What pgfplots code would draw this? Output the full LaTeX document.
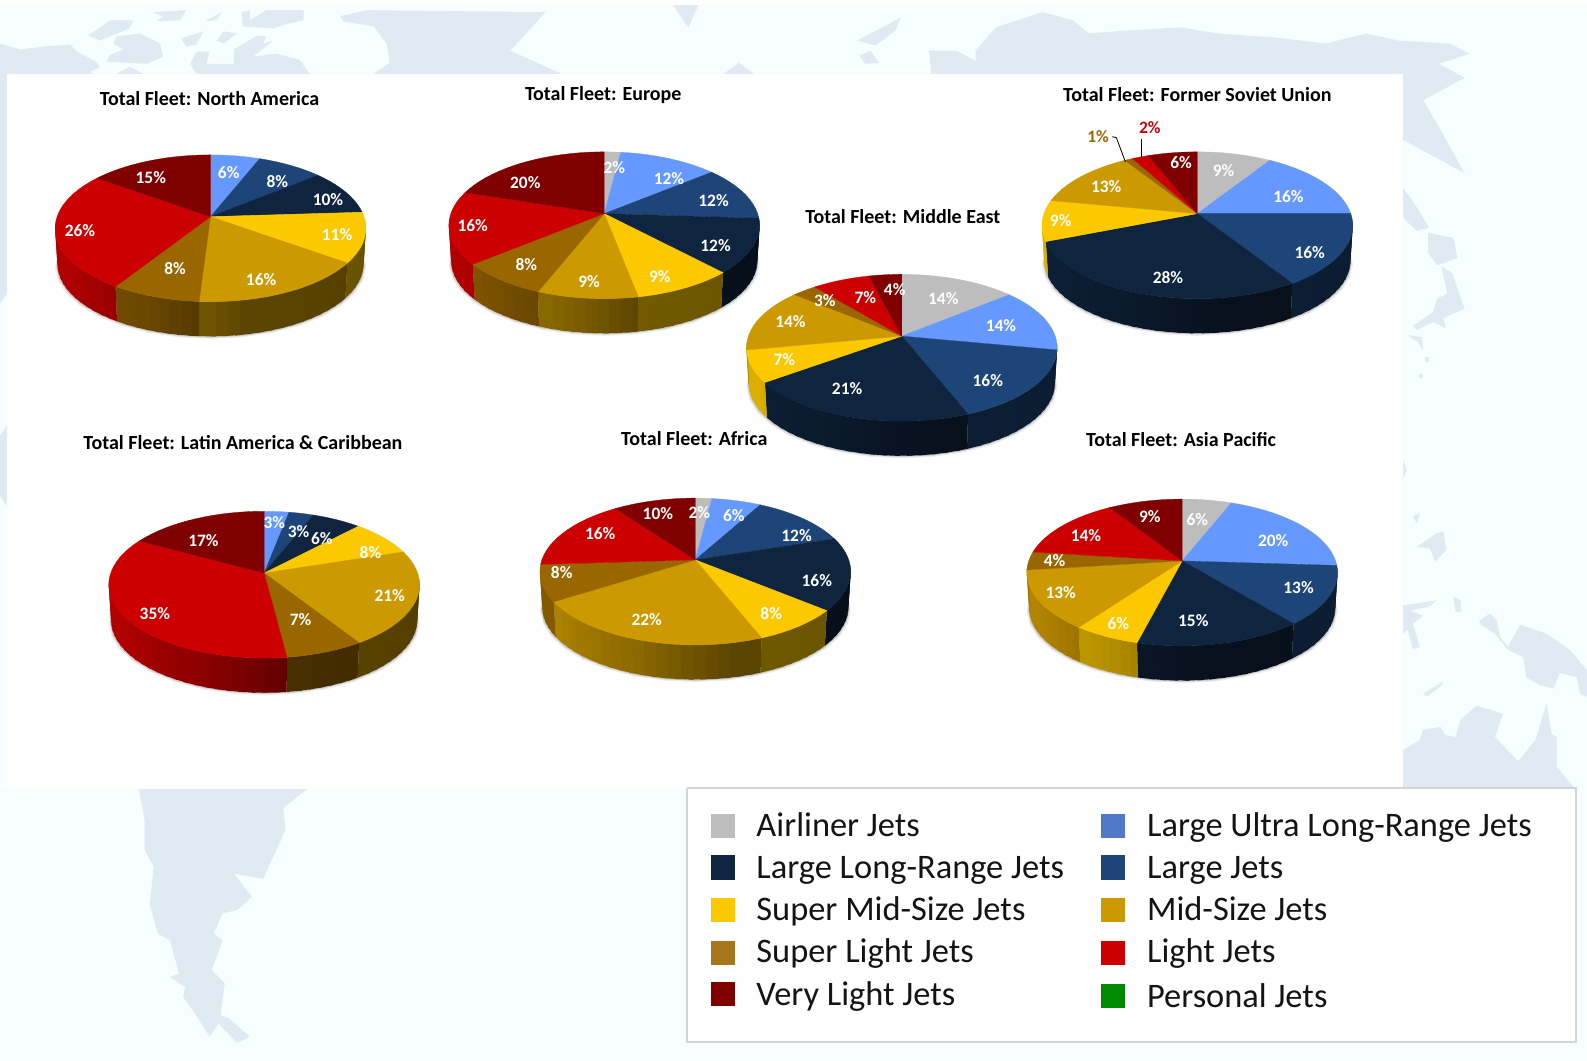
\documentclass[border=0pt]{standalone}
\usepackage{fontspec}
\setmainfont{Carlito}
\usepackage{pgfplots}
\pgfplotsset{compat=1.18}
\definecolor{cA}{HTML}{BDBDBD}
\definecolor{cB}{HTML}{6699FF}
\definecolor{cC}{HTML}{1D4577}
\definecolor{cD}{HTML}{0F243E}
\definecolor{cE}{HTML}{FCC900}
\definecolor{cF}{HTML}{CC9900}
\definecolor{cG}{HTML}{996600}
\definecolor{cH}{HTML}{CC0000}
\definecolor{cI}{HTML}{800000}
\definecolor{legB}{HTML}{5078C8}
\definecolor{legG}{HTML}{A6761D}
\definecolor{legP}{HTML}{008A00}
\definecolor{mapc}{HTML}{DFEAF3}
\definecolor{seac}{HTML}{F6FEFF}
% perspective of the pie
\def\kk{0.1586}
\def\RR{151.6}
\def\SS{70.7}
\def\DD{35.5}
\def\BS{0.985}
\def\ptcalc#1{\pgfmathsetmacro\wtmp{1+\kk*cos(#1)}\pgfmathsetmacro\PX{\RR*sin(#1)/\wtmp}\pgfmathsetmacro\PY{-\SS*cos(#1)/\wtmp}}
\def\topxy#1{\ptcalc{#1}\pgfmathsetmacro\QX{\AX+\PX}\pgfmathsetmacro\QY{\AY+\PY}}
\def\botxy#1{\ptcalc{#1}\pgfmathsetmacro\QX{\AX+\BS*\PX}\pgfmathsetmacro\QY{\AY+\BS*\PY+\DD}}
\def\brightness#1{\pgfmathsetmacro\bb{#1>=240?87:(#1>=200?68+19*(#1-200)/40:(#1>=170?45+23*(#1-170)/30:(40+5*(#1-100)/70)))}}
\newcommand\poly[2]{\addplot[forget plot,fill=#1,draw=none] coordinates {#2};}
\newcommand\lab[4][white]{\node[font=\fontsize{8.7}{8.7}\selectfont\bfseries,text=#1,inner sep=0pt] at (axis cs:#2,#3) {#4\%};}
\newcommand\ttl[3]{\node[font=\fontsize{10}{10}\selectfont\bfseries,text=black,inner sep=0pt] at (axis cs:#1,#2) {#3};}
\newcommand\swatch[3]{\addplot[forget plot,fill=#3,draw=none] coordinates {(#1,#2-12)(#1+24,#2-12)(#1+24,#2+12)(#1,#2+12)};}
\newcommand\legtxt[3]{\node[font=\fontsize{17.2}{17.2}\selectfont,anchor=base west,inner sep=0pt,text=black!92] at (axis cs:#1,#2) {#3};}
% one pie: apex x, apex y, shares in percent
\newcommand\piechart[3]{%
\def\AX{#1}\def\AY{#2}%
\foreach \grow/\op in {2.4/0.08,1.2/0.14}{%
 \gdef\cl{}%
 \foreach \t in {80,90,...,280}{\botxy{\t}\pgfmathsetmacro\QX{\AX+(\QX-\AX)*(1+\grow/150)}\pgfmathsetmacro\QY{\QY+\grow}\xdef\cl{\cl(\QX,\QY)}}%
 \edef\tmp{\noexpand\addplot[forget plot,fill=black,draw=none,fill opacity=\op] coordinates {\cl};}\tmp
}%
\gdef\cum{0}%
\foreach \v/\c in {#3}{%
 \pgfmathsetmacro\ta{\cum*3.6}\pgfmathsetmacro\tb{(\cum+\v)*3.6}%
 \pgfmathsetmacro\ca{max(\ta,95)}\pgfmathsetmacro\cb{min(\tb,265)}%
 \pgfmathparse{\cb>\ca?1:0}%
 \ifnum\pgfmathresult=1
  \pgfmathtruncatemacro\ns{ceil((\cb-\ca)/4)}%
  \foreach \i in {1,...,\ns}{%
   \pgfmathsetmacro\sa{\ca+(\cb-\ca)*(\i-1)/\ns}\pgfmathsetmacro\sb{\ca+(\cb-\ca)*\i/\ns}%
   \pgfmathsetmacro\sm{(\sa+\sb)/2}\brightness{\sm}%
   \pgfmathsetmacro\se{max(\ca,\sa-1.5)}%
   \topxy{\se}\edef\pa{(\QX,\QY)}\topxy{\sb}\edef\pb{(\QX,\QY)}\botxy{\sb}\edef\pc{(\QX,\QY)}\botxy{\se}\edef\pd{(\QX,\QY)}%
   \edef\tmp{\noexpand\addplot[forget plot,fill={\c!\bb!black},draw=none] coordinates {\pa\pb\pc\pd};}\tmp
  }%
 \fi
 \pgfmathsetmacro\newcum{\cum+\v}\xdef\cum{\newcum}%
}%
\gdef\cum{0}%
\foreach \v/\c in {#3}{%
 \pgfmathsetmacro\ta{\cum*3.6}\pgfmathsetmacro\tb{(\cum+\v)*3.6}%
 \pgfmathtruncatemacro\ns{ceil((\tb-\ta)/4)}%
 \xdef\cl{(\AX,\AY)}%
 \foreach \i in {0,...,\ns}{\pgfmathsetmacro\sa{\ta+(\tb-\ta)*\i/\ns}\topxy{\sa}\xdef\cl{\cl(\QX,\QY)}}%
 \xdef\cl{\cl(\AX,\AY)}%
 \edef\tmp{\noexpand\addplot[forget plot,fill=\c,draw=\c,line width=0.15pt] coordinates {\cl};}\tmp
 \pgfmathsetmacro\newcum{\cum+\v}\xdef\cum{\newcum}%
}%
}
\begin{document}
\begin{tikzpicture}
\begin{axis}[scale only axis,width=793.5pt,height=530.5pt,xmin=0,xmax=1568,ymin=0,ymax=1048,y dir=reverse,hide axis,clip=true]
% backdrop
\poly{seac}{(0,0)(1568,0)(1568,1048)(0,1048)}
\poly{white}{(0,0)(1568,0)(1568,5)(0,5)}
% map, top left
\poly{mapc}{(0,43)(20,49)(43,46)(69,44)(76,51)(95,61)(99,66)(89,71)(92,73)(0,73)}
\poly{mapc}{(87,35)(109,20)(132,20)(128,28)(99,40)}
\poly{mapc}{(115,36)(138,33)(158,43)(161,56)(145,63)(105,61)(109,54)(122,49)(112,43)}
\poly{mapc}{(151,12)(184,10)(178,20)(155,21)(161,16)}
\poly{mapc}{(204,20)(219,12)(214,20)(206,21)}
\poly{mapc}{(239,12)(247,10)(247,20)(263,10)(300,10)(300,20)(286,23)(270,28)(240,26)}
\poly{mapc}{(179,38)(201,31)(194,44)(184,46)}
\poly{mapc}{(214,40)(221,31)(234,33)(221,43)}
\poly{mapc}{(231,49)(254,35)(263,36)(260,43)(270,40)(250,56)(273,53)(296,59)(306,73)(194,73)(188,63)(194,51)(207,51)(204,63)(231,63)}
\poly{mapc}{(115,73)(128,66)(142,73)}
\poly{mapc}{(336,16)(362,10)(539,12)(504,50)(555,73)(369,73)(385,62)(382,43)(369,26)(339,21)}
\poly{mapc}{(665,5)(690,5)(680,27)}
\poly{mapc}{(715,73)(730,62)(745,73)}
% map, top right
\poly{mapc}{(964,50)(984,27)(1030,12)(1060,20)(1076,33)(1116,30)(1167,27)(1202,33)(1259,37)(1310,43)(1350,33)(1381,40)(1432,43)(1452,53)(1422,63)(1447,77)(1406,99)(1422,126)(1447,171)(1386,138)(1386,73)(964,73)}
\poly{mapc}{(847,40)(870,28)(890,17)(885,30)(865,45)}
\poly{mapc}{(849,55)(860,50)(868,62)(855,63)}
\poly{mapc}{(918,50)(945,50)(960,58)(985,73)(920,73)}
\poly{mapc}{(1386,185)(1400,205)(1412,225)(1400,228)(1386,215)}
\poly{mapc}{(1411,230)(1436,235)(1440,255)(1420,262)(1411,250)}
\poly{mapc}{(1424,263)(1435,270)(1447,305)(1426,314)(1428,324)(1416,318)(1400,326)(1396,322)(1416,308)(1420,295)(1430,290)}
\poly{mapc}{(1391,331)(1405,333)(1406,346)(1401,338)}
\poly{mapc}{(1408,353)(1412,353)(1412,358)(1408,358)}
\poly{mapc}{(1402,369)(1406,369)(1406,373)(1402,373)}
\poly{mapc}{(1400,540)(1419,527)(1426,525)(1429,543)(1418,555)(1413,542)}
\poly{mapc}{(1396,510)(1403,507)(1400,517)}
\poly{mapc}{(1386,454)(1390,464)(1386,474)}
\poly{mapc}{(1436,589)(1443,593)(1444,604)(1438,604)}
\poly{mapc}{(1386,598)(1419,593)(1413,599)(1393,603)(1406,608)(1396,616)(1403,639)(1396,641)(1391,622)(1386,626)}
\poly{mapc}{(1406,685)(1426,673)(1423,678)(1410,688)}
\poly{mapc}{(1462,613)(1472,606)(1479,613)(1482,629)(1490,639)(1502,617)(1528,626)(1551,642)(1568,662)(1568,688)(1561,685)(1558,669)(1541,665)(1535,680)(1522,677)(1508,669)(1505,649)(1490,642)(1477,626)(1462,616)}
\poly{mapc}{(1386,741)(1403,731)(1406,721)(1423,718)(1428,726)(1438,728)(1443,711)(1459,697)(1485,705)(1477,728)(1500,752)(1517,731)(1528,695)(1533,725)(1538,728)(1538,757)(1556,779)(1386,779)}
\poly{mapc}{(0,73)(7,73)(7,290)(0,300)}
\poly{mapc}{(0,430)(7,420)(7,500)(0,490)}
% map, South America
\poly{mapc}{(137,779)(143,810)(143,840)(152,856)(148,893)(156,922)(168,929)(177,962)(168,965)(183,975)(181,985)(194,1003)(207,1024)(216,1011)(234,1030)(247,1024)(225,1005)(218,1003)(222,971)(209,958)(220,929)(211,922)(220,902)(234,899)(249,886)(231,863)(260,868)(282,820)(280,798)(304,779)}
% white panel
\poly{white}{(7,73)(1386,73)(1386,779)(7,779)}
% pies: apex, then shares
\piechart{208}{214}{6/cB,8/cC,10/cD,11/cE,16/cF,8/cG,26/cH,15/cI}
\piechart{597}{211}{2/cA,12/cB,12/cC,12/cD,9/cE,9/cF,8/cG,16/cH,20/cI}
\piechart{1183}{211}{9/cA,16/cB,16/cC,28/cD,9/cE,13/cF,1/cG,2/cH,6/cI}
\piechart{891}{332}{14/cA,14/cB,16/cC,21/cD,7/cE,14/cF,3/cG,7/cH,4/cI}
\piechart{261}{566}{3/cB,3/cC,6/cD,8/cE,21/cF,7/cG,35/cH,17/cI}
\piechart{687}{553}{2/cA,6/cB,12/cC,16/cD,8/cE,22/cF,8/cG,16/cH,10/cI}
\piechart{1168}{554}{6/cA,20/cB,13/cC,15/cD,6/cE,13/cF,4/cG,14/cH,9/cI}
% titles
\ttl{207}{97.5}{Total Fleet: North America}
\ttl{596}{93.5}{Total Fleet: Europe}
\ttl{1183}{93.5}{Total Fleet: Former Soviet Union}
\ttl{892}{214}{Total Fleet: Middle East}
\ttl{240}{437}{Total Fleet: Latin America \& Caribbean}
\ttl{686}{433}{Total Fleet: Africa}
\ttl{1167}{434}{Total Fleet: Asia Pacific}
% labels
\lab{226}{170}{6}\lab{274}{179}{8}\lab{324}{197}{10}\lab{333}{232}{11}\lab{258}{276}{16}\lab{173}{265}{8}\lab{79}{228}{26}\lab{149}{175}{15}
\lab{607}{166}{2}\lab{661}{176}{12}\lab{705}{198}{12}\lab{707}{243}{12}\lab{652}{273}{9}\lab{582}{278}{9}\lab{520}{261}{8}\lab{467}{223}{16}\lab{519}{180}{20}
\lab{1209}{168}{9}\lab{1273}{194}{16}\lab{1294}{249}{16}\lab{1154}{274}{28}\lab{1048}{218}{9}\lab{1093}{184}{13}\lab[cG]{1085}{135}{1}\lab[cH]{1136}{126}{2}\lab{1167}{161}{6}
\addplot[forget plot,black,line width=0.4pt] coordinates {(1099,135)(1103,136)(1112,160)};
\addplot[forget plot,black,line width=0.4pt] coordinates {(1128,137)(1128,157)};
\lab{932}{295}{14}\lab{989}{322}{14}\lab{976}{376}{16}\lab{837}{384}{21}\lab{775}{355}{7}\lab{781}{318}{14}\lab{815}{297}{3}\lab{855}{294}{7}\lab{884}{286}{4}
\lab{271}{516}{3}\lab{295}{525}{3}\lab{318}{532}{6}\lab{366}{546}{8}\lab{385}{588}{21}\lab{297}{612}{7}\lab{153}{606}{35}\lab{201}{534}{17}
\lab{691}{506}{2}\lab{725}{509}{6}\lab{787}{529}{12}\lab{807}{573}{16}\lab{762}{606}{8}\lab{639}{612}{22}\lab{555}{566}{8}\lab{593}{527}{16}\lab{650}{507}{10}
\lab{1183}{513}{6}\lab{1258}{534}{20}\lab{1283}{580}{13}\lab{1179}{613}{15}\lab{1105}{616}{6}\lab{1048}{585}{13}\lab{1042}{554}{4}\lab{1073}{529}{14}\lab{1136}{510}{9}
% legend box
\addplot[forget plot,fill=white,draw=black!17,line width=1pt] coordinates {(679,778)(1557,778)(1557,1029)(679,1029)(679,778)};
\swatch{702}{816}{cA}\legtxt{747}{826}{Airliner Jets}
\swatch{702}{857}{cD}\legtxt{747}{868}{Large Long-Range Jets}
\swatch{702}{899}{cE}\legtxt{747}{909}{Super Mid-Size Jets}
\swatch{702}{941}{legG}\legtxt{747}{951}{Super Light Jets}
\swatch{702}{982}{cI}\legtxt{747}{993}{Very Light Jets}
\swatch{1088}{816}{legB}\legtxt{1133}{826}{Large Ultra Long-Range Jets}
\swatch{1088}{857}{cC}\legtxt{1133}{868}{Large Jets}
\swatch{1088}{899}{cF}\legtxt{1133}{909}{Mid-Size Jets}
\swatch{1088}{941}{cH}\legtxt{1133}{951}{Light Jets}
\swatch{1088}{984}{legP}\legtxt{1133}{995}{Personal Jets}
\end{axis}
\end{tikzpicture}
\end{document}
